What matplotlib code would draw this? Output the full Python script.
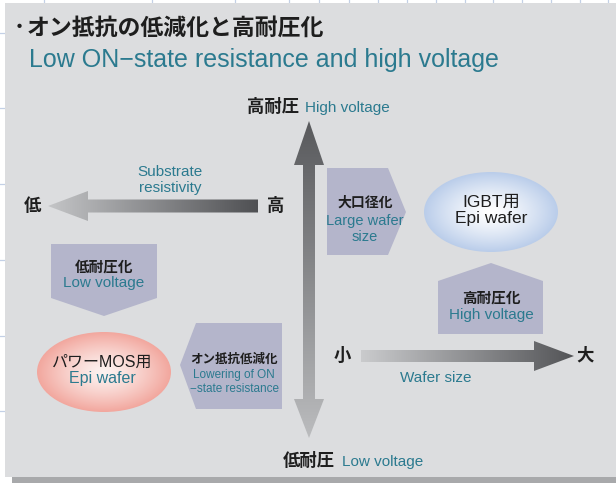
import numpy as np
import matplotlib
matplotlib.use("Agg")
import matplotlib.pyplot as plt
from matplotlib.patches import Polygon, Ellipse, Rectangle
from matplotlib.colors import LinearSegmentedColormap

JP = ['Noto Sans CJK JP', 'DejaVu Sans']
EN = ['Liberation Sans', 'Noto Sans CJK JP']

# ---- texts ----
title_bullet = "\uff65"
title_jp = "オン抵抗の低減化と高耐圧化"
title_en = "Low ON\u2212state resistance and high voltage"
axis_top = ("高耐圧", "High voltage")
axis_bottom = ("低耐圧", "Low voltage")
substrate_label = "Substrate\nresistivity"
substrate_ends = ("低", "高")
wafer_label = "Wafer size"
wafer_ends = ("小", "大")
box_jp = ["低耐圧化", "大口径化", "高耐圧化", "オン抵抗低減化"]
box_en = ["Low voltage", "Large wafer\nsize", "High voltage", "Lowering of ON\n\u2212state resistance"]
ellipse_jp = ["IGBT用", "パワーMOS用"]
ellipse_en = ["Epi wafer", "Epi wafer"]
grid_x = [44, 152, 235, 289, 319, 349, 378, 407, 436, 465, 493, 522, 551, 580, 608]
grid_y = [33, 108, 184, 260, 336, 411]

TEAL = "#2b7a8f"
BLACK = "#1e1e1e"
PANEL = "#dcdddf"
BOX = "#b4b5cb"

W, H = 616, 483
fig = plt.figure(figsize=(W / 100, H / 100), dpi=100)
ax = fig.add_axes([0, 0, 1, 1])
ax.set_xlim(0, W)
ax.set_ylim(H, 0)
ax.axis('off')
fig.patch.set_facecolor('white')

# background grid
for gx in grid_x:
    ax.plot([gx, gx], [0, H], color="#c3d0e6", lw=0.9, zorder=0)
for gy in grid_y:
    ax.plot([0, W], [gy, gy], color="#c3d0e6", lw=0.9, zorder=0)

# panel + shadow
ax.add_patch(Rectangle((12, 477), W - 12, 8, facecolor="#a8a9ab", edgecolor='none', zorder=1))
ax.add_patch(Rectangle((5, 3), W - 5, 474, facecolor=PANEL, edgecolor='none', zorder=2))


def grad_poly(verts, c0, c1, direction, z=3):
    verts = np.array(verts, dtype=float)
    x0, y0 = verts.min(axis=0)
    x1, y1 = verts.max(axis=0)
    cmap = LinearSegmentedColormap.from_list("g", [c0, c1])
    if direction == 'x':
        g = np.linspace(0, 1, 256)[None, :]
    else:
        g = np.linspace(0, 1, 256)[:, None]
    im = ax.imshow(g, cmap=cmap, extent=[x0, x1, y1, y0], origin='upper',
                   aspect='auto', zorder=z, interpolation='bilinear')
    p = Polygon(verts, closed=True, transform=ax.transData, facecolor='none', edgecolor='none')
    im.set_clip_path(p)


def radial_ellipse(cx, cy, w, h, c_center, c_edge, z=3):
    n = 200
    xs = np.linspace(-1, 1, n)
    X, Y = np.meshgrid(xs, xs)
    R = np.clip(np.sqrt(X ** 2 + Y ** 2), 0, 1)
    cmap = LinearSegmentedColormap.from_list("r", [c_center, c_edge])
    im = ax.imshow(R ** 1.3, cmap=cmap, extent=[cx - w / 2, cx + w / 2, cy + h / 2, cy - h / 2],
                   origin='upper', aspect='auto', zorder=z, interpolation='bilinear', vmin=0, vmax=1)
    e = Ellipse((cx, cy), w, h, transform=ax.transData, facecolor='none', edgecolor='none')
    im.set_clip_path(e)


# vertical double arrow
vx = 309
vert = [(vx, 121), (vx + 15, 165), (vx + 6, 165), (vx + 6, 399), (vx + 15, 399), (vx, 438),
        (vx - 15, 399), (vx - 6, 399), (vx - 6, 165), (vx - 15, 165)]
grad_poly(vert, "#58595c", "#bbbcbe", 'y')

# substrate arrow (pointing left)
sub = [(48, 206), (88, 191), (88, 199.5), (258, 199.5), (258, 212.5), (88, 212.5), (88, 221)]
grad_poly(sub, "#c4c5c7", "#4f5053", 'x')

# wafer arrow (pointing right)
waf = [(361, 350), (534, 350), (534, 341), (574, 356), (534, 371), (534, 362), (361, 362)]
grad_poly(waf, "#cacbcd", "#535457", 'x')

# pentagon boxes
pents = [
    [(51, 244), (157, 244), (157, 298), (104, 316), (51, 298)],
    [(327, 168), (388, 168), (406, 212), (388, 255), (327, 255)],
    [(438, 281), (491, 263), (543, 281), (543, 334), (438, 334)],
    [(196, 323), (282, 323), (282, 409), (196, 409), (180, 365)],
]
for pv in pents:
    ax.add_patch(Polygon(pv, closed=True, facecolor=BOX, edgecolor='none', zorder=3))

# ellipses
radial_ellipse(491, 212, 134, 80, "#ffffff", "#bacdea")
radial_ellipse(104, 372, 134, 80, "#fdf2f0", "#f2a79e")

# titles
ax.text(25, 28, title_bullet, family=JP, fontsize=16, weight='bold', color=BLACK, va='center', ha='right', zorder=5)
ax.text(27, 28, title_jp, family=JP, fontsize=16.5, weight='bold', color=BLACK, va='center', ha='left', zorder=5)
ax.text(29, 60, title_en, family=EN, fontsize=18, color=TEAL, va='center', ha='left', zorder=5)

# axis labels
ax.text(299, 107, axis_top[0], family=JP, fontsize=12.5, weight='bold', color=BLACK, va='center', ha='right', zorder=5)
ax.text(305, 108, axis_top[1], family=EN, fontsize=11, color=TEAL, va='center', ha='left', zorder=5)
ax.text(335, 461, axis_bottom[0], family=JP, fontsize=12.5, weight='bold', color=BLACK, va='center', ha='right', zorder=5)
ax.text(342, 462, axis_bottom[1], family=EN, fontsize=11, color=TEAL, va='center', ha='left', zorder=5)

# substrate arrow labels
ax.text(170, 180, substrate_label, family=EN, fontsize=11, color=TEAL, va='center', ha='center',
        linespacing=1.15, zorder=5)
ax.text(32, 206, substrate_ends[0], family=JP, fontsize=12.5, weight='bold', color=BLACK, va='center', ha='center', zorder=5)
ax.text(276, 206, substrate_ends[1], family=JP, fontsize=12.5, weight='bold', color=BLACK, va='center', ha='center', zorder=5)

# wafer arrow labels
ax.text(436, 378, wafer_label, family=EN, fontsize=11, color=TEAL, va='center', ha='center', zorder=5)
ax.text(342, 356, wafer_ends[0], family=JP, fontsize=12.5, weight='bold', color=BLACK, va='center', ha='center', zorder=5)
ax.text(585, 356, wafer_ends[1], family=JP, fontsize=12.5, weight='bold', color=BLACK, va='center', ha='center', zorder=5)

# box labels
box_pos = [(104, 267, 283), (365, 203, 229), (491, 298, 315), (234, 359, 382)]
box_jp_size = [10.5, 10, 10.5, 9]
box_en_size = [11, 10.5, 11, 8.5]
for (bx, yj, ye), tj, te, sj, se in zip(box_pos, box_jp, box_en, box_jp_size, box_en_size):
    ax.text(bx, yj, tj, family=JP, fontsize=sj, weight='bold', color=BLACK, va='center', ha='center', zorder=5)
    ax.text(bx, ye, te, family=EN, fontsize=se, color=TEAL, va='center', ha='center',
            linespacing=1.15, zorder=5)

# ellipse labels
ell_pos = [(491, 202, 219), (102, 362, 379)]
ell_jp_col = [BLACK, BLACK]
ell_en_col = [BLACK, TEAL]
ell_sizes = [12.5, 11.5]
for (ex, yj, ye), tj, te, cj, ce, s in zip(ell_pos, ellipse_jp, ellipse_en, ell_jp_col, ell_en_col, ell_sizes):
    ax.text(ex, yj, tj, family=EN, fontsize=s, color=cj, va='center', ha='center', zorder=5)
    ax.text(ex, ye, te, family=EN, fontsize=s, color=ce, va='center', ha='center', zorder=5)

fig.savefig("out.png", dpi=100)
